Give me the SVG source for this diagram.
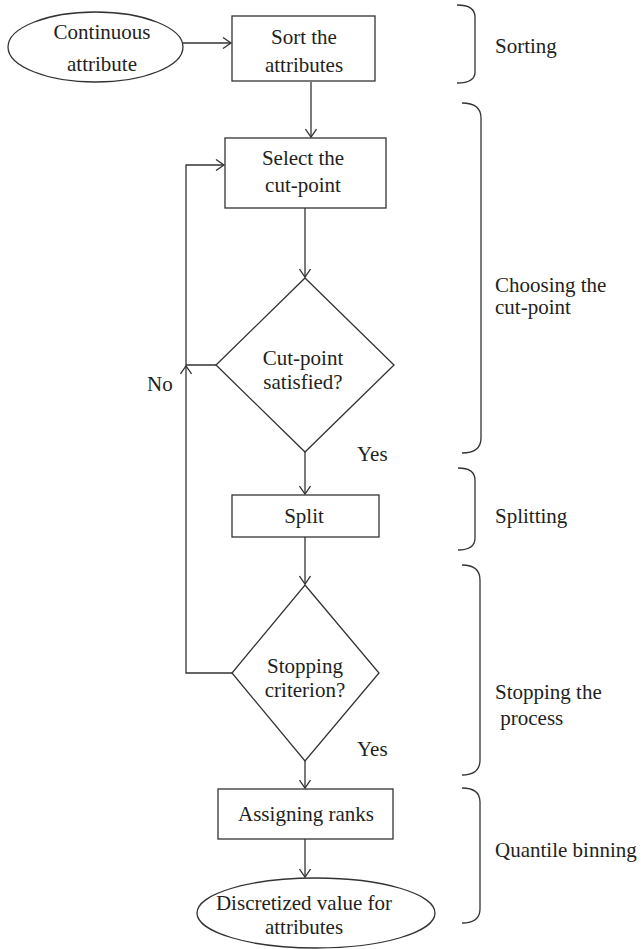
<svg xmlns="http://www.w3.org/2000/svg" width="641" height="949" viewBox="0 0 641 949">
<style>
.s{fill:none;stroke:#333;stroke-width:1.3}
.n{fill:#fff;stroke:#333;stroke-width:1.3}
text{font-family:"Liberation Serif","Times New Roman",serif;font-size:21px;fill:#231f20}
.c{text-anchor:middle}
</style>
<defs>
<marker id="arr" markerWidth="12" markerHeight="12" refX="9" refY="6" orient="auto" markerUnits="userSpaceOnUse">
<path d="M1,0.5 L9,6 L1,11.5" fill="none" stroke="#333" stroke-width="1.3"/>
</marker>
</defs>
<rect width="641" height="949" fill="#fff"/>
<g id="connectors">
<line class="s" x1="183" y1="43" x2="231" y2="43" marker-end="url(#arr)"/>
<line class="s" x1="311" y1="82" x2="311" y2="137" marker-end="url(#arr)"/>
<line class="s" x1="305" y1="208" x2="305" y2="277" marker-end="url(#arr)"/>
<line class="s" x1="305" y1="452" x2="305" y2="494" marker-end="url(#arr)"/>
<line class="s" x1="305" y1="537" x2="305" y2="584" marker-end="url(#arr)"/>
<line class="s" x1="305" y1="761" x2="305" y2="788" marker-end="url(#arr)"/>
<line class="s" x1="305" y1="839" x2="305" y2="877" marker-end="url(#arr)"/>
<polyline class="s" points="232,673 186,673 186,366" marker-end="url(#arr)"/>
<polyline class="s" points="216,365 186,365 186,165 224,165" marker-end="url(#arr)"/>
<text x="147" y="391">No</text>
<text x="357" y="461">Yes</text>
<text x="357" y="756">Yes</text>
</g>
<g id="continuous-attribute">
<ellipse class="n" cx="95.5" cy="47" rx="87.5" ry="35"/>
<text class="c" x="102" y="39">Continuous</text>
<text class="c" x="102" y="71">attribute</text>
</g>
<g id="sort">
<rect class="n" x="232" y="16" width="143" height="65"/>
<text class="c" x="304" y="44">Sort the</text>
<text class="c" x="304" y="72">attributes</text>
</g>
<g id="select">
<rect class="n" x="225" y="138" width="161" height="70"/>
<text class="c" x="303" y="165">Select the</text>
<text class="c" x="303" y="192">cut-point</text>
</g>
<g id="cutpoint-satisfied">
<polygon class="n" points="305,278 394,365 305,452 216,365"/>
<text class="c" x="303" y="365">Cut-point</text>
<text class="c" x="303" y="389">satisfied?</text>
</g>
<g id="split">
<rect class="n" x="232" y="495" width="147" height="42"/>
<text class="c" x="304" y="523">Split</text>
</g>
<g id="stopping-criterion">
<polygon class="n" points="305,585 379,673 305,761 232,673"/>
<text class="c" x="305" y="673">Stopping</text>
<text class="c" x="305" y="697">criterion?</text>
</g>
<g id="assigning-ranks">
<rect class="n" x="218" y="789" width="175" height="50"/>
<text class="c" x="306" y="821">Assigning ranks</text>
</g>
<g id="discretized">
<ellipse class="n" cx="316" cy="913" rx="119" ry="35"/>
<text class="c" x="304" y="910">Discretized value for</text>
<text class="c" x="304" y="934">attributes</text>
</g>
<g id="phases">
<path class="s" d="M457,5 Q475,5 475,17 L475,72 Q475,83 457,83"/>
<text x="495" y="53">Sorting</text>
<path class="s" d="M462,103 Q481,103 481,118 L481,438 Q481,453 462,453"/>
<text x="495" y="292">Choosing the</text>
<text x="495" y="314">cut-point</text>
<path class="s" d="M458,468 Q475,468 475,480 L475,538 Q475,550 458,550"/>
<text x="495" y="523">Splitting</text>
<path class="s" d="M462,565 Q480,565 480,580 L480,760 Q480,775 462,775"/>
<text x="495" y="699">Stopping the</text>
<text x="495" y="725" xml:space="preserve"> process</text>
<path class="s" d="M462,788 Q480,788 480,802 L480,909 Q480,923 462,923"/>
<text x="495" y="857">Quantile binning</text>
</g>
</svg>
